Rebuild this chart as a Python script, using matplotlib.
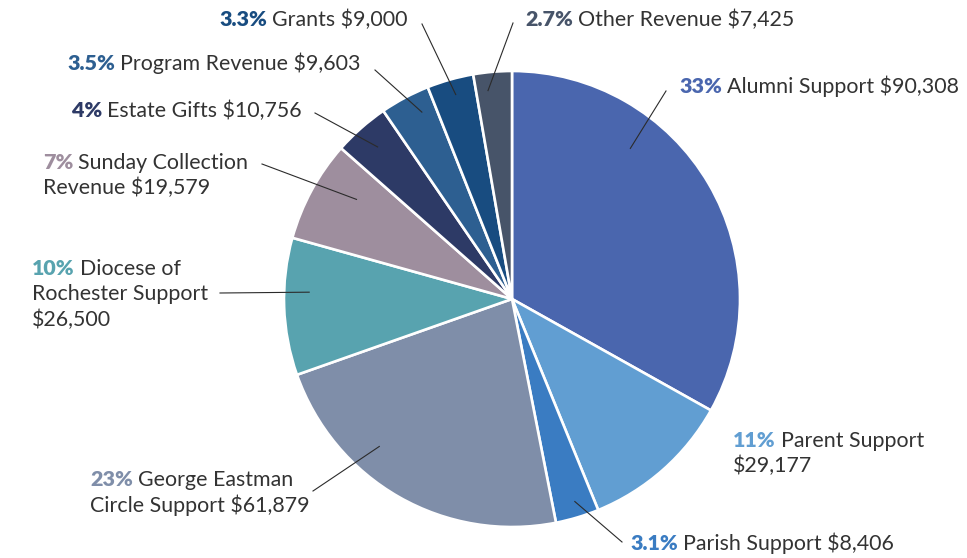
import numpy as np
import matplotlib
matplotlib.use("Agg")
import matplotlib.pyplot as plt

# data, clockwise from 12 o'clock
categories = ["Alumni Support", "Parent Support", "Parish Support",
              "George Eastman Circle Support", "Diocese of Rochester Support",
              "Sunday Collection Revenue", "Estate Gifts", "Program Revenue",
              "Grants", "Other Revenue"]
amounts = [90308, 29177, 8406, 61879, 26500, 19579, 10756, 9603, 9000, 7425]
pct_labels = ["33%", "11%", "3.1%", "23%", "10%", "7%", "4%", "3.5%", "3.3%", "2.7%"]
label_lines = [
    ["Alumni Support $90,308"],
    ["Parent Support", "$29,177"],
    ["Parish Support $8,406"],
    ["George Eastman", "Circle Support $61,879"],
    ["Diocese of", "Rochester Support", "$26,500"],
    ["Sunday Collection", "Revenue $19,579"],
    ["Estate Gifts $10,756"],
    ["Program Revenue $9,603"],
    ["Grants $9,000"],
    ["Other Revenue $7,425"],
]
colors = ["#4A66AE", "#619ED2", "#3A7CC2", "#7F8EA9", "#58A3AF",
          "#9E8E9E", "#2D3A66", "#2D5F91", "#184C80", "#475469"]

W, H = 967, 558
# label anchor (left x, first baseline y) in pixels from top-left
label_pos = [(679, 93), (733, 447), (630, 550), (90, 486), (32, 275),
             (43, 169), (72, 117), (67, 70), (219, 26), (525, 26)]
# leader line: (fraction through wedge clockwise, radius fraction, end x, end y px)
leaders = [(0.32, 0.84, 666, 91), None, (0.45, 0.93, 622, 542),
           (0.65, 0.87, 313, 491), (0.61, 0.89, 220, 293),
           (0.66, 0.81, 262, 164), (0.50, 0.89, 315, 113),
           (0.68, 0.91, 375, 70), (0.53, 0.93, 422, 24), (0.33, 0.92, 513, 23)]

cx, cy, r = 512, H - 299, 228
font = "Lato"
fs = 15.4
lh = 25.5
text_col = "#333333"

fig = plt.figure(figsize=(W / 100, H / 100), dpi=100)
ax = fig.add_axes([0, 0, 1, 1])
wedges, _ = ax.pie(amounts, colors=colors, startangle=90, counterclock=False,
                   center=(cx, cy), radius=r,
                   wedgeprops=dict(edgecolor="white", linewidth=1.9))
ax.set_xlim(0, W)
ax.set_ylim(0, H)
ax.set_aspect("equal")
ax.axis("off")

for w, ld in zip(wedges, leaders):
    if ld is None:
        continue
    t, rf, ex, ey = ld
    ang = np.deg2rad(w.theta2 - t * (w.theta2 - w.theta1))
    sx, sy = cx + rf * r * np.cos(ang), cy + rf * r * np.sin(ang)
    ax.plot([sx, ex], [sy, H - ey], color="#2b2b2b", lw=0.8, zorder=3)

pct_texts = []
for (x, y), p, c in zip(label_pos, pct_labels, colors):
    t = ax.text(x, H - y, p, color=c, fontsize=fs, fontweight="heavy",
                family=font, va="baseline", ha="left")
    pct_texts.append(t)

fig.canvas.draw()
rend = fig.canvas.get_renderer()
for t, (x, y), lines in zip(pct_texts, label_pos, label_lines):
    bb = t.get_window_extent(rend)
    ax.text(x + bb.width + 5, H - y, lines[0], color=text_col, fontsize=fs,
            family=font, va="baseline", ha="left")
    for k, ln in enumerate(lines[1:], start=1):
        ax.text(x, H - y - k * lh, ln, color=text_col, fontsize=fs,
                family=font, va="baseline", ha="left")

fig.savefig("out.png", dpi=100)
